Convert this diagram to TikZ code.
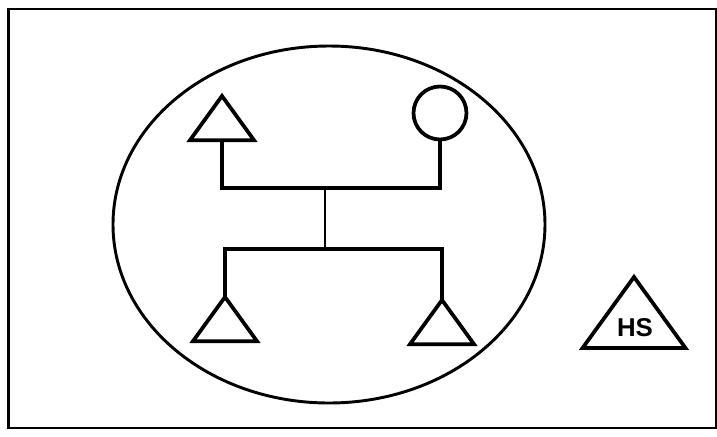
\documentclass[tikz,border=0pt]{standalone}
\usepackage{fontspec}
\newfontfamily\hsfont{Liberation Sans}
\usetikzlibrary{positioning,shapes.geometric}
\tikzset{
  frame/.style={draw=black,line width=2pt},
  ring/.style={draw=black,line width=2.5pt},
  sym/.style={draw=black,line width=3.2pt,line join=miter},
  link/.style={draw=black,line width=3.2pt},
  stem/.style={draw=black,line width=2.2pt},
  tri/.pic={
    \coordinate (-apex) at (0,0);
    \coordinate (-base) at (0,0.69*#1);
    \draw[sym] (-apex) -- (-#1/2,0.69*#1) -- (#1/2,0.69*#1) -- cycle;
  },
  hslab/.style={font=\hsfont\bfseries\fontsize{22}{22}\selectfont,inner sep=0pt},
}
\begin{document}
\begin{tikzpicture}[x=0.03cm,y=-0.03cm]
  \useasboundingbox (0,0) rectangle (717,436);
  \draw[frame] (8.5,9) rectangle (716.5,428);
  \node[ring,ellipse,minimum width=432*0.03cm,minimum height=357*0.03cm,inner sep=0pt] (family) at (329,224.5) {};
  % parents
  \pic (dad) at (222,96) {tri=64};
  \node[sym,circle,minimum size=1.59cm,inner sep=0pt] (mom) at (440,113) {};
  \coordinate (topbar) at (325,188);
  \draw[link] (dad-base) |- (topbar) -| (mom.south);
  % children
  \coordinate (botbar) at (325,249);
  \draw[stem] (topbar) -- (botbar);
  \pic (son1) at (225,297) {tri=64};
  \pic (son2) at (442,300) {tri=64};
  \draw[link] (son1-apex) |- (botbar) -| (son2-apex);
  % outside
  \pic (hs) at (634,277) {tri=103};
  \node[hslab] (hstext) at (635,328) {HS};
\end{tikzpicture}
\end{document}
